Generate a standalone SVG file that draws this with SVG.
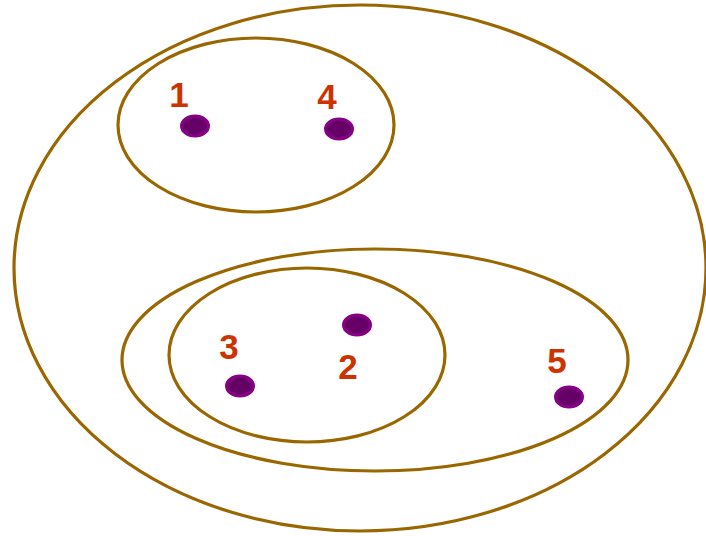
<svg xmlns="http://www.w3.org/2000/svg" width="706" height="536" viewBox="0 0 706 536">
<style>
.set{fill:none;stroke:#996600;stroke-width:3.2}
.pt{fill:#660066;stroke:#880088;stroke-width:3}
.lbl{font-family:"Liberation Sans",Arial,sans-serif;font-weight:bold;font-size:35px;fill:#cc3300;text-anchor:middle}
</style>
<rect width="706" height="536" fill="#ffffff"/>
<g id="sets">
<ellipse id="outer" class="set" cx="360" cy="268" rx="346" ry="263"/>
<ellipse id="setA" class="set" cx="256" cy="125" rx="138" ry="87"/>
<ellipse id="setB" class="set" cx="375" cy="360" rx="253" ry="111"/>
<ellipse id="setC" class="set" cx="307" cy="355" rx="138" ry="87"/>
</g>
<g id="n1"><ellipse class="pt" cx="195" cy="126" rx="13.5" ry="10"/><text class="lbl" x="179" y="107">1</text></g>
<g id="n4"><ellipse class="pt" cx="339" cy="129" rx="13.5" ry="10"/><text class="lbl" x="327" y="109">4</text></g>
<g id="n2"><ellipse class="pt" cx="357" cy="325" rx="13.5" ry="10"/><text class="lbl" x="348" y="379">2</text></g>
<g id="n3"><ellipse class="pt" cx="240" cy="386" rx="13.5" ry="10"/><text class="lbl" x="229" y="359">3</text></g>
<g id="n5"><ellipse class="pt" cx="569" cy="397" rx="13.5" ry="10"/><text class="lbl" x="557" y="373">5</text></g>
<g id="connectors"/>
</svg>
